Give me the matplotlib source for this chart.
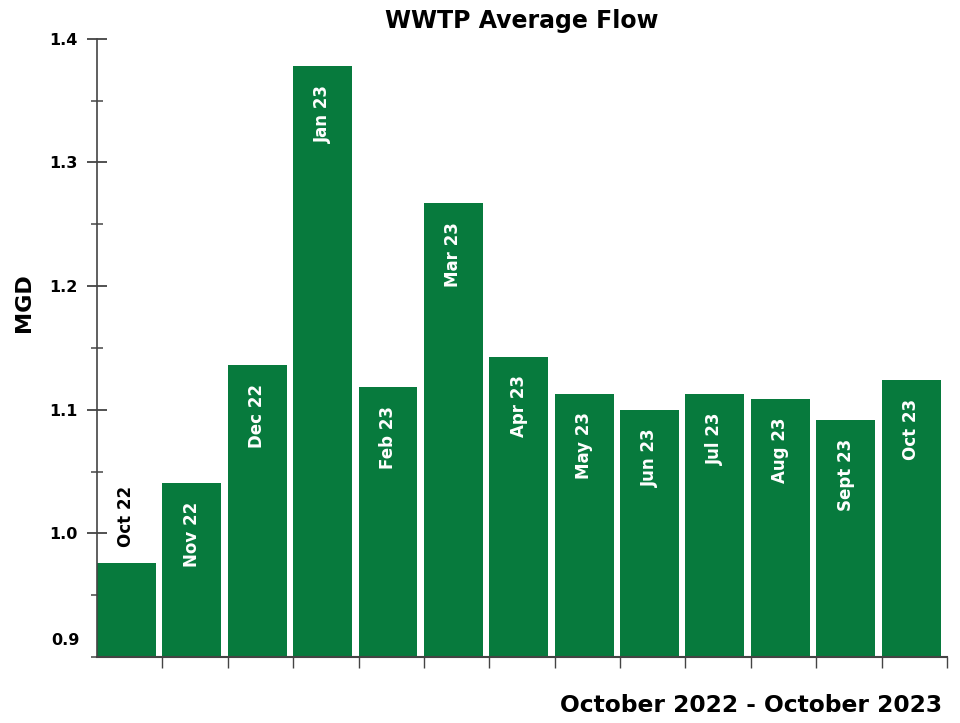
import numpy as np
import matplotlib.pyplot as plt
from matplotlib.ticker import MultipleLocator

months = ['Oct 22', 'Nov 22', 'Dec 22', 'Jan 23', 'Feb 23', 'Mar 23', 'Apr 23',
          'May 23', 'Jun 23', 'Jul 23', 'Aug 23', 'Sept 23', 'Oct 23']
flow = [0.976, 1.041, 1.136, 1.378, 1.118, 1.267, 1.143,
        1.113, 1.100, 1.113, 1.109, 1.092, 1.124]
yticks = [1.0, 1.1, 1.2, 1.3, 1.4]

plt.rcParams['font.family'] = ['DejaVu Sans']
green = '#077a3d'

fig = plt.figure(figsize=(9.6, 7.23), dpi=100)
ax = fig.add_axes([0.101, 0.0913, 0.8855, 0.855])

x = np.arange(len(months))
# bars sit at the left of each slot, gap on the right
ax.bar(x - 0.5, flow, width=0.9, align='edge', color=green, zorder=2)

for xi, v, m in zip(x, flow, months):
    if v < 1.0:
        ax.annotate(m, (xi - 0.05, v), xytext=(0, 11.5), textcoords='offset points',
                    rotation=90, ha='center', va='bottom', color='black',
                    fontsize=12, fontweight='bold')
    else:
        ax.annotate(m, (xi - 0.05, v), xytext=(0, -13.5), textcoords='offset points',
                    rotation=90, ha='center', va='top', color='white',
                    fontsize=12, fontweight='bold')

ax.set_xlim(-0.5, len(months) - 0.5)
ax.set_ylim(0.9, 1.4)

ax.set_yticks(yticks)
ax.set_yticklabels([f'{t:.1f}' for t in yticks], fontsize=11.5, fontweight='bold')
ax.yaxis.set_minor_locator(MultipleLocator(0.05))
ax.tick_params(axis='y', which='major', direction='inout', length=14,
               width=1.2, color='#333333', pad=7)
ax.tick_params(axis='y', which='minor', direction='inout', length=9,
               width=1.2, color='#555555')
# the 0.9 label sits above the axis line
ax.annotate('0.9', (0, 0.9), xycoords=ax.get_yaxis_transform(),
            xytext=(-12.5, 12), textcoords='offset points', ha='right',
            va='center', fontsize=11.5, fontweight='bold')

ax.set_xticks(x + 0.5)
ax.set_xticklabels([])
ax.tick_params(axis='x', direction='out', length=8, width=1, color='#444444')

for s in ['top', 'right']:
    ax.spines[s].set_visible(False)
ax.spines['left'].set_color('#444444')
ax.spines['bottom'].set_color('#444444')
ax.spines['left'].set_linewidth(1.2)
ax.spines['bottom'].set_linewidth(1.5)

ax.set_title('WWTP Average Flow', fontsize=17, fontweight='bold', pad=8)
fig.text(0.025, 0.582, 'MGD', rotation=90, ha='center', va='center',
         fontsize=16, fontweight='bold')
fig.text(0.981, 0.024, 'October 2022 - October 2023', ha='right', va='center',
         fontsize=16.8, fontweight='bold')

fig.savefig('out.png', dpi=100)
